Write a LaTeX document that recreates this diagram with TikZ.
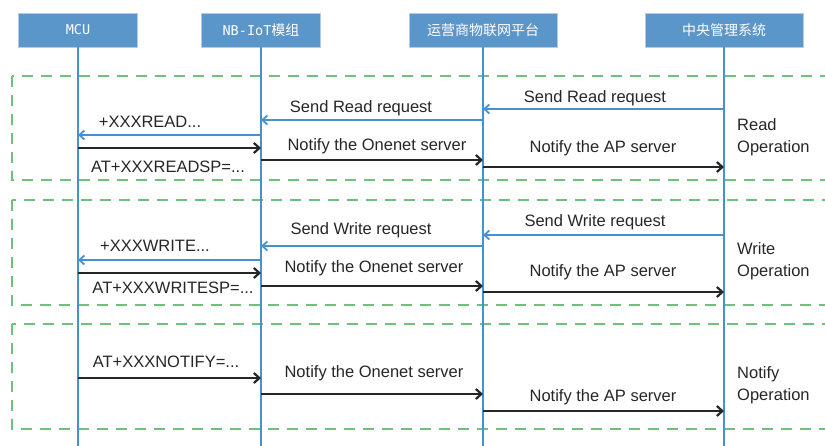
\documentclass[tikz,border=0pt]{standalone}
\usepackage{fontspec}
\setmainfont{Liberation Sans}
\newfontfamily\cjkfont{Noto Sans CJK SC}
\newfontfamily\hdrmono{DejaVu Sans Mono}
\usetikzlibrary{arrows.meta}
\definecolor{hdrblue}{RGB}{91,150,202}
\definecolor{hdredge}{RGB}{175,205,232}
\definecolor{lifeblue}{RGB}{70,145,210}
\definecolor{opgreen}{RGB}{108,194,125}
\newcommand{\hdrlat}[1]{{\hdrmono\fontsize{13.5}{16}\selectfont #1}}

\begin{document}
\begin{tikzpicture}[x=1pt,y=-1pt]
	\tikzstyle{hdr}=[draw=hdredge,line width=0.8pt,fill=hdrblue,text=white,minimum width=119pt,minimum height=34pt,inner sep=0pt,font=\cjkfont\fontsize{14}{16}\selectfont]
	\tikzstyle{life}=[draw=lifeblue,line width=2pt]
	\tikzstyle{opbox}=[draw=opgreen,line width=2.5pt,dash pattern=on 11pt off 8pt]
	\tikzstyle{req}=[draw=lifeblue,line width=1.8pt,-{Straight Barb[length=5pt,width=9pt]}]
	\tikzstyle{rsp}=[draw=black!85,line width=2.2pt,-{Straight Barb[length=5.5pt,width=10pt]}]
	\tikzstyle{lbl}=[inner sep=0pt,text=black!85,font=\fontsize{16.5}{22}\selectfont]
	\tikzstyle{oplbl}=[lbl,anchor=west,align=left]
	\clip (0,0) rectangle (825,445);

	% operation frames
	\draw[opbox] (12,76) rectangle (840,180);
	\draw[opbox] (12,200) rectangle (840,305);
	\draw[opbox] (12,324) rectangle (840,429);

	% participants and lifelines
	\node[hdr] (mcu) at (78,30) {\hdrlat{MCU}};
	\node[hdr] (nb) at (261,30) {\hdrlat{NB-IoT}模组};
	\node[hdr,minimum width=148pt] (plat) at (483,30) {运营商物联网平台};
	\node[hdr,minimum width=158pt] (cms) at (724,30) {中央管理系统};
	\draw[life] (mcu.south) -- (mcu |- 0,450);
	\draw[life] (nb.south) -- (nb |- 0,450);
	\draw[life] (plat.south) -- (plat |- 0,450);
	\draw[life] (cms.south) -- (cms |- 0,450);

	% read
	\draw[req] (cms |- 0,109) -- (plat |- 0,109);
	\draw[req] (plat |- 0,120) -- (nb |- 0,120);
	\draw[req] (nb |- 0,135) -- (mcu |- 0,135);
	\draw[rsp] (mcu |- 0,148) -- (nb |- 0,148);
	\draw[rsp] (nb |- 0,160) -- (plat |- 0,160);
	\draw[rsp] (plat |- 0,167) -- (cms |- 0,167);
	\node[lbl] (rd1) at (595,98) {Send Read request};
	\node[lbl] (rd2) at (361,108) {Send Read request};
	\node[lbl] (rd3) at (150,122) {+XXXREAD...};
	\node[lbl] (rd4) at (168,167) {AT+XXXREADSP=...};
	\node[lbl] (rd5) at (377,146) {Notify the Onenet server};
	\node[lbl] (rd6) at (603,148) {Notify the AP server};
	\node[oplbl] (rdop) at (737,137) {Read\\Operation};

	% write
	\draw[req] (cms |- 0,235) -- (plat |- 0,235);
	\draw[req] (plat |- 0,246) -- (nb |- 0,246);
	\draw[req] (nb |- 0,260) -- (mcu |- 0,260);
	\draw[rsp] (mcu |- 0,273) -- (nb |- 0,273);
	\draw[rsp] (nb |- 0,286) -- (plat |- 0,286);
	\draw[rsp] (plat |- 0,292) -- (cms |- 0,292);
	\node[lbl] (wr1) at (595,222) {Send Write request};
	\node[lbl] (wr2) at (361,230) {Send Write request};
	\node[lbl] (wr3) at (155,246) {+XXXWRITE...};
	\node[lbl] (wr4) at (173,288) {AT+XXXWRITESP=...};
	\node[lbl] (wr5) at (374,268) {Notify the Onenet server};
	\node[lbl] (wr6) at (603,272) {Notify the AP server};
	\node[oplbl] (wrop) at (737,261) {Write\\Operation};

	% notify
	\draw[rsp] (mcu |- 0,378) -- (nb |- 0,378);
	\draw[rsp] (nb |- 0,394) -- (plat |- 0,394);
	\draw[rsp] (plat |- 0,411) -- (cms |- 0,411);
	\node[lbl] (nt1) at (166,362) {AT+XXXNOTIFY=...};
	\node[lbl] (nt2) at (374,373) {Notify the Onenet server};
	\node[lbl] (nt3) at (603,397) {Notify the AP server};
	\node[oplbl] (ntop) at (737,385) {Notify\\Operation};
\end{tikzpicture}
\end{document}
